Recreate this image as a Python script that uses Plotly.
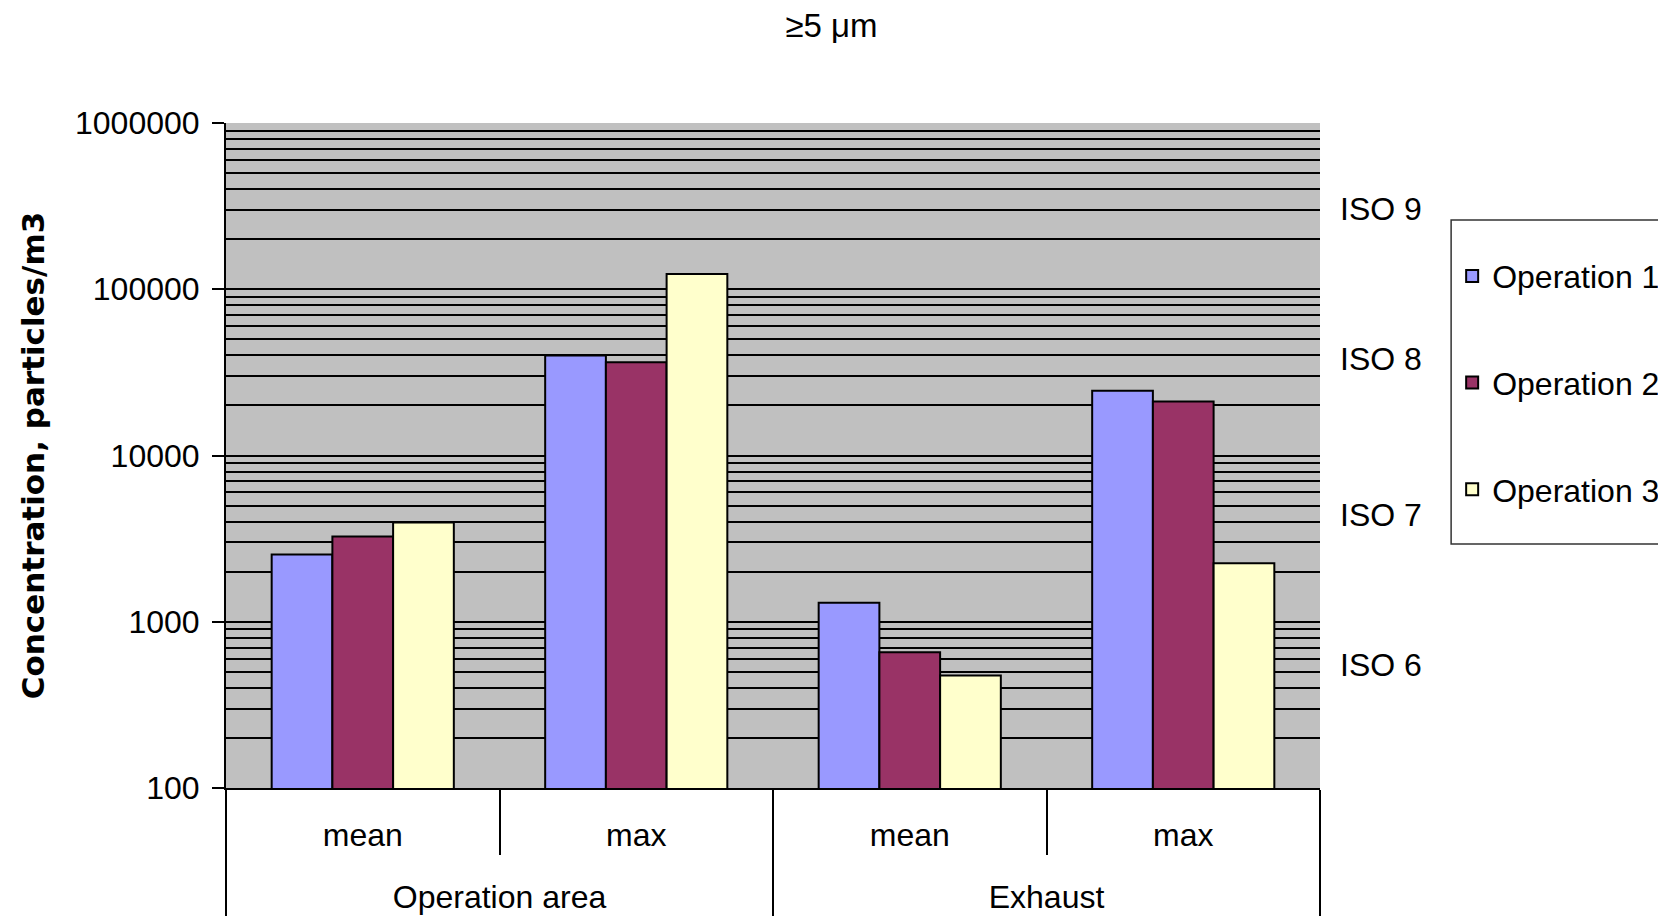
import plotly.graph_objects as go

# ---- data ----
groups = ["Operation area", "Operation area", "Exhaust", "Exhaust"]
stats = ["mean", "max", "mean", "max"]
series_names = ["Operation 1", "Operation 2", "Operation 3"]
op1 = [2540, 40000, 1300, 24500]
op2 = [3260, 36400, 655, 21100]
op3 = [3950, 123500, 475, 2250]
series_values = [op1, op2, op3]
colors = ["#9999FF", "#993366", "#FFFFCC"]
iso_labels = ["ISO 9", "ISO 8", "ISO 7", "ISO 6"]
iso_label_y = [0.8707, 0.6451, 0.4105, 0.185]  # paper positions of side labels
title_text = "≥5 μm"
y_title = "Concentration, particles/m3"

FONT = "Liberation Sans, Arial, sans-serif"

# page body has an 8px margin, so the figure is made 8px smaller
W, H = 1658, 911

# outer level labels get an empty first line so they sit one line lower
outer_labels = ["<br>" + g for g in groups]

fig = go.Figure()
for name, vals, col in zip(series_names, series_values, colors):
    fig.add_trace(go.Bar(
        x=[outer_labels, stats], y=vals, name=name, legendgroup=name,
        marker=dict(color=col, line=dict(color="black", width=2)),
    ))

fig.update_layout(
    width=W, height=H,
    margin=dict(l=218, r=346, t=115, b=131, autoexpand=False),
    paper_bgcolor="white", plot_bgcolor="#C0C0C0",
    barmode="group", bargap=0.334, bargroupgap=0,
    font=dict(family=FONT, size=32, color="black"),
    title=dict(text=title_text, x=0.5535, xref="paper", xanchor="center",
               y=1 - 17 / H, yref="container", yanchor="middle",
               font=dict(family=FONT, size=33, color="black")),
    legend=dict(x=1.1208, xanchor="left", y=0.811, yanchor="top",
                font=dict(family=FONT, size=32, color="black"),
                tracegroupgap=62, traceorder="grouped",
                bgcolor="rgba(0,0,0,0)", borderwidth=0),
    showlegend=True,
)

fig.update_yaxes(
    type="log", range=[2, 6], dtick=1, tickformat="d",
    showline=True, linecolor="black", linewidth=2,
    ticks="outside", ticklen=12, tickwidth=2, tickcolor="black",
    showgrid=True, gridcolor="black", gridwidth=2,
    minor=dict(dtick="D1", showgrid=True, gridcolor="black", gridwidth=2, ticks=""),
    tickfont=dict(family=FONT, size=32, color="black"),
    ticklabelstandoff=6,
    title=dict(text=y_title, standoff=21,
               font=dict(family="DejaVu Sans", size=31, color="black", weight="bold")),
    zeroline=False,
)

fig.update_xaxes(
    type="multicategory", range=[-0.5, 3.5],
    showline=True, linecolor="black", linewidth=2,
    ticks="outside", ticklen=65, tickwidth=2, tickcolor="black",
    showdividers=True, dividercolor="black", dividerwidth=2,
    tickfont=dict(family=FONT, size=32, color="black"),
    ticklabelstandoff=18,
    showgrid=False,
)

for txt, yy in zip(iso_labels, iso_label_y):
    fig.add_annotation(text=txt, xref="paper", yref="paper", x=1.0165, y=yy,
                       xanchor="left", yanchor="middle", showarrow=False,
                       font=dict(family=FONT, size=32, color="black"))

# legend frame
fig.add_shape(type="rect", xref="paper", yref="paper",
              x0=(1451 - 227) / 1093, x1=1.6, y0=(788 - 544) / 665, y1=(788 - 220) / 665,
              line=dict(color="#333333", width=1.5), fillcolor="rgba(0,0,0,0)", layer="below")

fig.write_html("out.html")
